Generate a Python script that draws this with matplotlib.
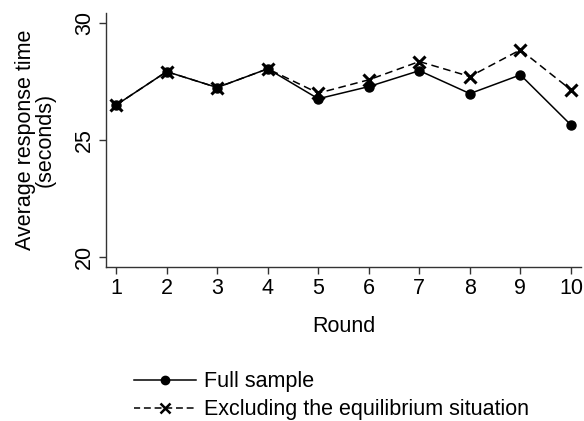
import matplotlib
matplotlib.use('Agg')
import matplotlib.pyplot as plt
from matplotlib.lines import Line2D

# data
rounds = [1, 2, 3, 4, 5, 6, 7, 8, 9, 10]
full_sample = [26.48, 27.91, 27.23, 28.03, 26.75, 27.27, 27.95, 26.97, 27.77, 25.63]
excl_equil = [26.48, 27.91, 27.23, 28.03, 26.99, 27.56, 28.34, 27.70, 28.84, 27.13]
y_ticks = [20, 25, 30]

plt.rcParams['font.family'] = ['Liberation Sans', 'DejaVu Sans']
FS = 15.5

fig = plt.figure(figsize=(5.84, 4.21), dpi=100)
ax = fig.add_axes([0.1815, 0.366, 0.8135, 0.603])

ax.plot(rounds, excl_equil, color='black', linestyle=(0, (5, 3)), linewidth=1.1,
        marker='x', markersize=9, markeredgewidth=2.2)
ax.plot(rounds, full_sample, color='black', linestyle='-', linewidth=1.1,
        marker='o', markersize=6.5)

ax.set_xlim(0.8, 10.2)
ax.set_ylim(19.57, 30.41)
ax.set_xticks(rounds)
ax.set_yticks(y_ticks)
ax.tick_params(axis='both', labelsize=FS, length=5, width=1, color='#333333',
               direction='out', pad=3)
for lbl in ax.get_yticklabels():
    lbl.set_rotation(90)
    lbl.set_va('center')

for s in ['top', 'right']:
    ax.spines[s].set_visible(False)
for s in ['left', 'bottom']:
    ax.spines[s].set_color('#333333')
    ax.spines[s].set_linewidth(1)

ax.set_xlabel('Round', fontsize=FS, labelpad=12)
ax.set_ylabel('Average response time\n(seconds)', fontsize=FS, labelpad=13, linespacing=0.9)

# legend handles, dashes a bit longer like the original
handles = [
    Line2D([], [], color='black', linestyle='-', linewidth=1.1, marker='o', markersize=6),
    Line2D([], [], color='black', linestyle=(0.5, (4.5, 2.5)), linewidth=1.1,
           marker='x', markersize=7, markeredgewidth=1.8),
]
fig.legend(handles, ['Full sample', 'Excluding the equilibrium situation'],
           loc='upper left', bbox_to_anchor=(0.23, 0.118), frameon=False,
           fontsize=FS, handlelength=2.85, handletextpad=0.4, labelspacing=0.32,
           borderpad=0, borderaxespad=0)

fig.savefig('out.png', dpi=100)
